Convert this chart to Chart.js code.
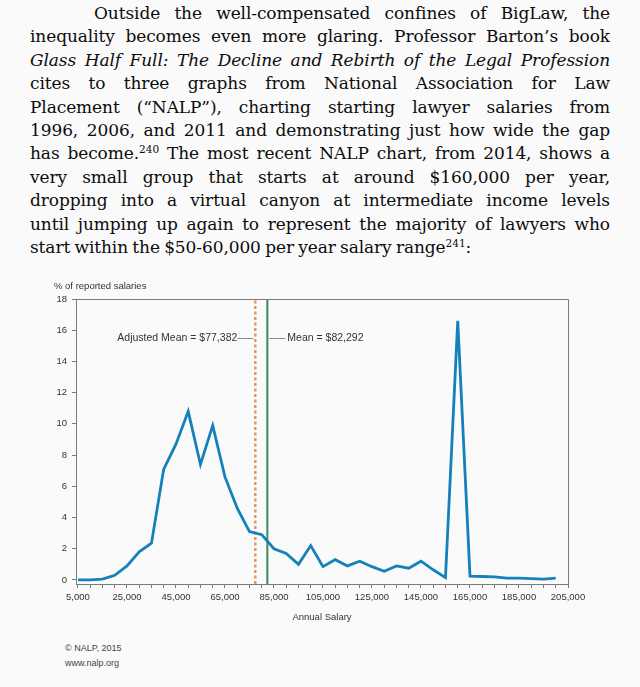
<!DOCTYPE html>
<html>
<head>
<meta charset="utf-8">
<script src="https://cdn.jsdelivr.net/npm/chart.js@4.4.1/dist/chart.umd.min.js"></script>
<style>
  html, body { margin: 0; padding: 0; background: #fafafa; }
  body { width: 640px; height: 687px; position: relative; overflow: hidden; }
  .para { position: absolute; left: 30px; top: 2px; width: 580px;
          font-family: "DejaVu Serif", serif; font-size: 17px; line-height: 23.4px; color: #0c0c0c;
          word-spacing: -1px; letter-spacing: -0.1px; }
  .para div { white-space: nowrap; text-align: justify; text-align-last: justify; }
  .para div.first { padding-left: 64px; }
  .para div.last { text-align-last: left; }
  .para sup { font-size: 10.5px; line-height: 0; vertical-align: 6px; letter-spacing: 0; }
  #box { position: absolute; left: 0; top: 270px; width: 640px; height: 360px; }
  .credit { position: absolute; left: 65px; top: 641px; font-family: "Liberation Sans", Arial, sans-serif;
            font-size: 9px; line-height: 15px; color: #444; }
</style>
</head>
<body>
<div class="para">
  <div class="first">Outside the well-compensated confines of BigLaw, the</div>
  <div>inequality becomes even more glaring. Professor Barton’s book</div>
  <div><i>Glass Half Full: The Decline and Rebirth of the Legal Profession</i></div>
  <div>cites to three graphs from National Association for Law</div>
  <div>Placement (“NALP”), charting starting lawyer salaries from</div>
  <div>1996, 2006, and 2011 and demonstrating just how wide the gap</div>
  <div>has become.<sup>240</sup> The most recent NALP chart, from 2014, shows a</div>
  <div>very small group that starts at around $160,000 per year,</div>
  <div>dropping into a virtual canyon at intermediate income levels</div>
  <div>until jumping up again to represent the majority of lawyers who</div>
  <div class="last">start within the $50-60,000 per year salary range<sup>241</sup>:</div>
</div>
<div id="box"><canvas id="salaries"></canvas></div>
<div class="credit">© NALP, 2015<br>www.nalp.org</div>
<script>
// salary buckets and % of reported salaries
const salaryLevels = [5000, 10000, 15000, 20000, 25000, 30000, 35000, 40000, 45000, 50000,
    55000, 60000, 65000, 70000, 75000, 80000, 85000, 90000, 95000, 100000,
    105000, 110000, 115000, 120000, 125000, 130000, 135000, 140000, 145000, 150000,
    155000, 160000, 165000, 170000, 175000, 180000, 185000, 190000, 195000, 200000];
const reportedShare = [0.0, 0.0, 0.05, 0.3, 0.9, 1.8, 2.35, 7.1, 8.7, 10.8,
    7.4, 9.9, 6.6, 4.6, 3.1, 2.9, 2.0, 1.7, 1.0, 2.2,
    0.85, 1.3, 0.9, 1.2, 0.85, 0.55, 0.9, 0.75, 1.2, 0.65,
    0.15, 16.6, 0.25, 0.22, 0.2, 0.12, 0.12, 0.08, 0.05, 0.12];

const adjustedMean = 77382;
const mean = 82292;

const xLabelValues = [5000, 25000, 45000, 65000, 85000, 105000, 125000, 145000, 165000, 185000, 205000];
const yTickValues = [0, 2, 4, 6, 8, 10, 12, 14, 16, 18];

const X_MIN = 4200, X_MAX = 205000, Y_MIN = -0.26, Y_MAX = 18;
const labelLevel = 15.5;
const textColor = '#333';
const axisColor = '#7a7a7a';

Chart.defaults.font.family = '"Liberation Sans", Arial, sans-serif';
Chart.defaults.color = textColor;

const decor = {
    id: 'decor',
    afterDatasetsDraw(chart) {
        const { ctx, chartArea: a, scales: { x, y } } = chart;
        ctx.save();
        // top and right edges of the frame
        ctx.strokeStyle = axisColor;
        ctx.lineWidth = 1;
        ctx.beginPath();
        ctx.moveTo(a.left, a.top + 0.5);
        ctx.lineTo(a.right + 0.5, a.top + 0.5);
        ctx.lineTo(a.right + 0.5, a.bottom);
        ctx.stroke();

        // y caption
        ctx.fillStyle = textColor;
        ctx.font = '9.5px "Liberation Sans", Arial, sans-serif';
        ctx.textBaseline = 'middle';
        ctx.textAlign = 'left';
        ctx.fillText('% of reported salaries', 54, 16);

        // mean labels with leader lines
        const ly = Math.round(y.getPixelForValue(labelLevel)) + 0.5;
        const xa = x.getPixelForValue(adjustedMean);
        const xm = x.getPixelForValue(mean);
        ctx.strokeStyle = '#8a8a8a';
        ctx.beginPath();
        ctx.moveTo(xa - 18, ly); ctx.lineTo(xa - 2, ly);
        ctx.moveTo(xm + 2, ly); ctx.lineTo(xm + 18, ly);
        ctx.stroke();
        ctx.font = '10.5px "Liberation Sans", Arial, sans-serif';
        ctx.textAlign = 'right';
        ctx.fillText('Adjusted Mean = $' + adjustedMean.toLocaleString('en-US'), xa - 18, ly);
        ctx.textAlign = 'left';
        ctx.fillText('Mean = $' + mean.toLocaleString('en-US'), xm + 20, ly);
        ctx.restore();
    }
};

new Chart(document.getElementById('salaries'), {
    type: 'line',
    data: {
        datasets: [
            {
                label: 'Share of reported salaries',
                data: salaryLevels.map((s, i) => ({ x: s, y: reportedShare[i] })),
                borderColor: '#1580b9',
                borderWidth: 2.8,
                pointRadius: 0,
                tension: 0,
            },
            {
                label: 'Adjusted mean',
                data: [{ x: adjustedMean, y: Y_MIN }, { x: adjustedMean, y: Y_MAX }],
                borderColor: '#e4945f',
                borderWidth: 2.4,
                borderDash: [3, 2.5],
                pointRadius: 0,
            },
            {
                label: 'Mean',
                data: [{ x: mean, y: Y_MIN }, { x: mean, y: Y_MAX }],
                borderColor: '#3d8a5e',
                borderWidth: 2,
                pointRadius: 0,
            },
        ],
    },
    options: {
        responsive: true,
        maintainAspectRatio: false,
        animation: false,
        layout: { padding: { left: 0, right: 72, top: 29, bottom: 0 } },
        plugins: {
            legend: { display: false },
            tooltip: { enabled: false },
        },
        scales: {
            x: {
                type: 'linear',
                min: X_MIN,
                max: X_MAX,
                afterBuildTicks: (scale) => {
                    const t = [];
                    for (let v = 5000; v <= X_MAX; v += 5000) t.push({ value: v });
                    scale.ticks = t;
                },
                afterFit: (scale) => { scale.height = 46; },
                ticks: {
                    autoSkip: false,
                    maxRotation: 0,
                    padding: 4,
                    font: { size: 9.5 },
                    callback: (v) => xLabelValues.includes(v) ? v.toLocaleString('en-US') : '',
                },
                grid: { drawOnChartArea: false, tickLength: 4, color: axisColor },
                border: { color: axisColor },
                title: {
                    display: true,
                    text: 'Annual Salary',
                    font: { size: 9.5 },
                    padding: { top: 0, bottom: 7 },
                },
            },
            y: {
                min: Y_MIN,
                max: Y_MAX,
                afterBuildTicks: (scale) => { scale.ticks = yTickValues.map(v => ({ value: v })); },
                afterFit: (scale) => { scale.width = 76; },
                ticks: { padding: 5, font: { size: 9.5 } },
                grid: { drawOnChartArea: false, tickLength: 4, color: axisColor },
                border: { color: axisColor },
            },
        },
    },
    plugins: [decor],
});
</script>
</body>
</html>
